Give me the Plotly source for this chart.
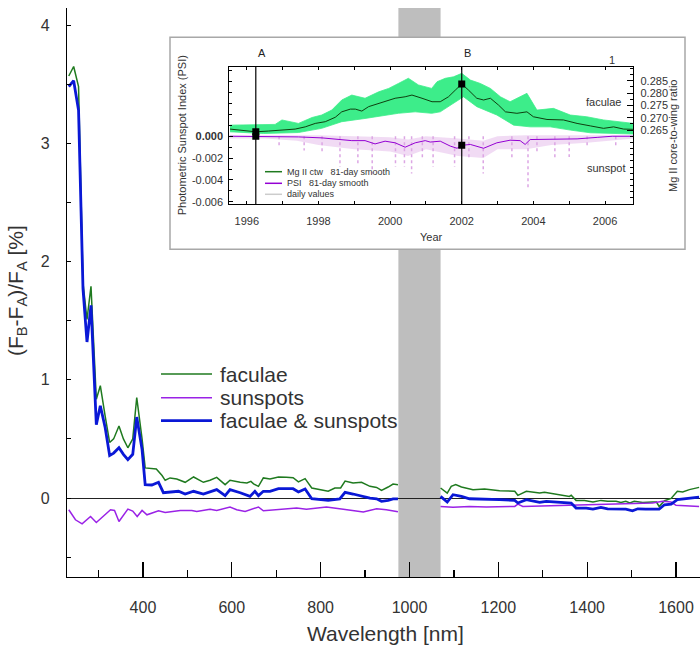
import plotly.graph_objects as go

# ---------------- main panel data ----------------
wl_fac = [233, 244, 255, 265, 274, 283, 295, 304, 315, 325, 334, 346, 356, 366, 377, 386, 398, 405,
          430, 443, 450, 461, 476, 495, 514, 536, 551, 566, 585, 596, 619, 634, 643, 649, 660, 671,
          686, 705, 723, 738, 750, 765, 780, 798, 817, 832, 845, 855, 873, 892, 911, 926, 937, 952,
          963, 974, 1020,
          1070, 1085, 1094, 1104, 1117, 1143, 1169, 1203, 1237, 1244, 1263, 1293, 1304, 1330, 1360,
          1364, 1375, 1394, 1413, 1431, 1446, 1465, 1476, 1487, 1496, 1506, 1525, 1547, 1556, 1562,
          1574, 1589, 1603, 1615, 1630, 1652]
faculae = [3.57, 3.65, 3.48, 1.82, 1.51, 1.79, 0.835, 0.95, 0.69, 0.47, 0.50, 0.61, 0.50, 0.425, 0.50,
           0.85, 0.50, 0.255,
           0.246, 0.19, 0.15, 0.17, 0.161, 0.133, 0.178, 0.133, 0.15, 0.175, 0.113, 0.15, 0.133, 0.127,
           0.141, 0.12, 0.099, 0.17, 0.161, 0.178, 0.175, 0.172, 0.136, 0.164, 0.085, 0.071, 0.057,
           0.085, 0.085, 0.144, 0.127, 0.133, 0.099, 0.09, 0.065, 0.093, 0.118, 0.113, None,
           0.085, 0.042, 0.099, 0.113, 0.093, 0.071, 0.076, 0.062, 0.057, 0.023, 0.057, 0.042, 0.048,
           0.034, 0.014, 0.023, -0.02, -0.02, -0.034, -0.02, -0.028, -0.028, -0.037, -0.028, -0.042,
           -0.028, -0.037, -0.034, -0.034, -0.071, -0.023, -0.003, 0.057, 0.051, 0.071, 0.09]

wl_spot = [233, 248, 263, 282, 295, 308, 327, 336, 346, 366, 377, 387, 398, 409, 435, 450, 484, 510,
           521, 551, 566, 596, 611, 630, 660, 671, 709, 746, 768, 813, 851, 896, 926, 948, 974, 1020,
           1070, 1098, 1135, 1173, 1237, 1244, 1255, 1323, 1375, 1435, 1502, 1547, 1570, 1589, 1600,
           1622, 1652]
sunspots = [-0.099, -0.184, -0.218, -0.156, -0.207, -0.161, -0.099, -0.105, -0.198, -0.094, -0.11,
            -0.156, -0.105, -0.142, -0.108, -0.122, -0.105, -0.105, -0.113, -0.094, -0.105, -0.076,
            -0.099, -0.113, -0.076, -0.108, -0.094, -0.085, -0.094, -0.076, -0.094, -0.119, -0.091,
            -0.099, -0.116, None,
            -0.071, -0.079, -0.071, -0.076, -0.071, -0.051, -0.071, -0.065, -0.057, -0.057, -0.048,
            -0.042, -0.028, -0.034, -0.062, -0.065, -0.071]

wl_both = [233, 244, 255, 265, 274, 283, 295, 304, 315, 325, 334, 346, 356, 366, 377, 386, 398, 405,
           420, 435, 446, 465, 480, 495, 514, 536, 566, 585, 596, 619, 641, 652, 660, 671, 686, 705,
           738, 750, 765, 780, 817, 843, 855, 873, 892, 911, 926, 937, 952, 963, 974, 1020,
           1070, 1085, 1098, 1117, 1135, 1173, 1203, 1237, 1244, 1263, 1293, 1308, 1338, 1364, 1375,
           1398, 1413, 1431, 1446, 1472, 1487, 1502, 1514, 1532, 1562, 1574, 1589, 1603, 1622, 1652]
both = [3.48, 3.53, 3.28, 1.77, 1.32, 1.63, 0.62, 0.78, 0.595, 0.36, 0.38, 0.425, 0.37, 0.325, 0.37,
        0.685, 0.41, 0.113,
        0.11, 0.133, 0.045, 0.051, 0.057, 0.034, 0.057, 0.034, 0.071, 0.02, 0.071, 0.045, 0.014,
        0.057, 0.02, 0.057, 0.057, 0.079, 0.079, 0.051, 0.076, -0.006, -0.02, -0.008, 0.048, 0.034,
        0.014, 0.0, -0.006, -0.028, -0.02, -0.008, -0.008, None,
        0.014, -0.034, 0.028, 0.014, -0.006, -0.008, -0.014, -0.02, -0.042, -0.014, -0.037, -0.028,
        -0.037, -0.042, -0.085, -0.085, -0.094, -0.079, -0.091, -0.091, -0.094, -0.108, -0.091,
        -0.094, -0.094, -0.057, -0.051, -0.014, -0.006, 0.008]

gap_band = [975, 1070]
main_yticks = [-0.5, 0, 0.5, 1, 1.5, 2, 2.5, 3, 3.5, 4]
main_yticktext = ["", "0", "", "1", "", "2", "", "3", "", "4"]
main_xticks = [400, 600, 800, 1000, 1200, 1400, 1600]
legend_names = ["faculae", "sunspots", "faculae & sunspots"]

# ---------------- inset data ----------------
mg_years = [1995.53, 1995.86, 1996.25, 1996.6, 1996.98, 1997.35, 1997.63, 1997.91, 1998.19, 1998.47,
            1998.65, 1998.89, 1999.03, 1999.21, 1999.40, 1999.63, 1999.86, 2000.14, 2000.42, 2000.61,
            2000.89, 2001.17, 2001.4, 2001.63, 2001.82, 2002.0, 2002.19, 2002.42, 2002.61, 2002.8,
            2003.03, 2003.22, 2003.54, 2003.82, 2004.0, 2004.38, 2004.84, 2005.22, 2005.59, 2005.96,
            2006.24, 2006.52, 2006.8]
mg_smooth = [0.2654, 0.2650, 0.2643, 0.2646, 0.2650, 0.2654, 0.2663, 0.2677, 0.2684, 0.2702,
             0.2724, 0.2735, 0.2735, 0.2727, 0.2745, 0.2755, 0.2765, 0.2779, 0.2785, 0.2792,
             0.2779, 0.2765, 0.2765, 0.2785, 0.2812, 0.2837, 0.2812, 0.2779, 0.2772, 0.2779,
             0.2751, 0.2724, 0.2718, 0.2724, 0.2704, 0.2693, 0.2691, 0.2677, 0.2667, 0.2657,
             0.2663, 0.2654, 0.2653]

mg_top_years = [1995.53, 1996.14, 1996.79, 1996.98, 1997.44, 1997.82, 1998.09, 1998.37, 1998.65,
                1998.93, 1999.30, 1999.68, 1999.96, 2000.23, 2000.51, 2000.79, 2001.16, 2001.31,
                2001.54, 2001.77, 2002.0, 2002.24, 2002.52, 2002.8, 2003.08, 2003.35, 2003.82,
                2004.1, 2004.56, 2005.03, 2005.49, 2005.96, 2006.33, 2006.8]
mg_top = [0.2670, 0.2670, 0.2673, 0.2691, 0.2677, 0.2701, 0.2711, 0.2731, 0.2772, 0.2792, 0.2779,
          0.2805, 0.2819, 0.2839, 0.2860, 0.2833, 0.2819, 0.2846, 0.2860, 0.2866, 0.2880, 0.2853,
          0.2839, 0.2819, 0.2785, 0.2765, 0.2799, 0.2731, 0.2738, 0.2711, 0.2704, 0.2691, 0.2684,
          0.2677]
mg_bot_years = [1995.53, 1996.47, 1997.44, 1998.09, 1998.65, 1999.3, 1999.77, 2000.23, 2000.7,
                2001.16, 2001.4, 2001.77, 2002.05, 2002.42, 2002.98, 2003.45, 2003.91, 2004.47,
                2005.03, 2005.59, 2006.15, 2006.8]
mg_bot = [0.2643, 0.2636, 0.2640, 0.2657, 0.2684, 0.2697, 0.2707, 0.2718, 0.2724, 0.2718, 0.2724,
          0.2758, 0.2785, 0.2745, 0.2711, 0.2670, 0.2663, 0.2663, 0.2650, 0.2639, 0.2636, 0.2634]

psi_years = [1995.53, 1996.25, 1997.44, 1998.1, 1998.56, 1998.93, 1999.3, 1999.58, 1999.86, 2000.14,
             2000.42, 2000.7, 2000.98, 2001.12, 2001.4, 2001.68, 2001.87, 2002.0, 2002.24, 2002.61,
             2002.98, 2003.35, 2003.63, 2003.77, 2003.91, 2004.56, 2005.22, 2005.78, 2006.2, 2006.8]
psi_smooth = [0.0, 0.0, -0.00006, -0.00015, -0.0003, -0.0004, -0.0004, -0.0007, -0.00045, -0.0006,
              -0.001, -0.0006, -0.0004, -0.00053, -0.00045, -0.0009, -0.0011, -0.00083, -0.00075,
              -0.0011, -0.0006, -0.00036, -0.0004, -0.00075, -0.0003, -0.0003, -0.00024, -0.0001,
              0.0, 0.0]

psi_band_years = [1995.5, 1996.5, 1997.4, 1998.0, 1999.0, 2000.0, 2000.5, 2001.0, 2001.9, 2002.6,
                  2003.0, 2003.8, 2004.5, 2005.5, 2006.8]
psi_band_upper = [0.0001, 0.0001, 0.0001, 0.0001, 0.0, -0.0001, -0.0003, 0.0, -0.0002, -0.0004,
                  0.0, 0.0001, 0.0001, 0.0001, 0.0001]
psi_band_lower = [-0.0002, -0.0002, -0.0004, -0.0008, -0.0012, -0.0014, -0.0018, -0.0012, -0.0018,
                  -0.0020, -0.0012, -0.0012, -0.0008, -0.0006, -0.0002]

spike_years = [1996.9, 1997.6, 1998.1, 1998.6, 1999.1, 1999.5, 2000.15, 2000.4, 2000.6, 2000.9,
               2001.2, 2001.8, 2002.2, 2002.6, 2003.4, 2003.85, 2004.1, 2004.6, 2005.0, 2005.5, 2006.3]
spike_min = [-0.0010, -0.0013, -0.0016, -0.0028, -0.0025, -0.0034, -0.0028, -0.0028, -0.0034,
             -0.0022, -0.0028, -0.0028, -0.0020, -0.0034, -0.0021, -0.0048, -0.0016, -0.0021,
             -0.0019, -0.0010, -0.0009]

epoch_years = [1996.25, 2002.0]
epoch_labels = ["A", "B"]
epoch_mg = [0.2643, 0.2837]
epoch_psi = [0.0, -0.00083]

inset_xticks = list(range(1996, 2007))
inset_xticktext = [str(y) if y % 2 == 0 else "" for y in inset_xticks]
psi_ticks = [-0.006, -0.004, -0.002, 0.0]
psi_ticktext = ["-0.006", "-0.004", "-0.002", "<b>0.000</b>"]
mg_ticks = [0.265, 0.270, 0.275, 0.280, 0.285]
inset_legend = ["Mg II ctw   81-day smooth", "PSI   81-day smooth", "daily values"]

# ---------------- styling ----------------
FONT = "Liberation Sans, Arial, Helvetica, sans-serif"
TXT = "#333333"
C_FAC = "#1f7a1f"
C_SPOT = "#9a22e6"
C_BOTH = "#0a18d6"
C_MGD = "#3ded8a"
C_PSID = "#dca6e4"

fig = go.Figure()

fig.add_trace(go.Scatter(x=wl_fac, y=faculae, mode="lines", line=dict(color=C_FAC, width=1.5),
                         connectgaps=False, xaxis="x", yaxis="y"))
fig.add_trace(go.Scatter(x=wl_spot, y=sunspots, mode="lines", line=dict(color=C_SPOT, width=1.5),
                         connectgaps=False, xaxis="x", yaxis="y"))
fig.add_trace(go.Scatter(x=wl_both, y=both, mode="lines", line=dict(color=C_BOTH, width=2.8),
                         connectgaps=False, xaxis="x", yaxis="y"))

fig.add_trace(go.Scatter(x=mg_top_years + mg_bot_years[::-1], y=mg_top + mg_bot[::-1], mode="lines",
                         line=dict(width=0.8, color=C_MGD), fill="toself", fillcolor=C_MGD,
                         xaxis="x2", yaxis="y3"))
fig.add_trace(go.Scatter(x=psi_band_years + psi_band_years[::-1],
                         y=psi_band_upper + psi_band_lower[::-1], mode="lines",
                         line=dict(width=0, color=C_PSID), fill="toself",
                         fillcolor="rgba(220,166,228,0.4)", xaxis="x2", yaxis="y2"))
sx, sy = [], []
for yr, mn in zip(spike_years, spike_min):
    sx += [yr, yr, None]
    sy += [0.0, mn, None]
fig.add_trace(go.Scatter(x=sx, y=sy, mode="lines", line=dict(color=C_PSID, width=1.5, dash="dot"),
                         xaxis="x2", yaxis="y2"))
fig.add_trace(go.Scatter(x=psi_years, y=psi_smooth, mode="lines", line=dict(color="#9400d3", width=1),
                         xaxis="x2", yaxis="y2"))
fig.add_trace(go.Scatter(x=mg_years, y=mg_smooth, mode="lines", line=dict(color="#0f3f0f", width=1),
                         xaxis="x2", yaxis="y3"))
fig.add_trace(go.Scatter(x=epoch_years, y=epoch_mg, mode="markers",
                         marker=dict(symbol="square", size=7, color="black"), xaxis="x2", yaxis="y3"))
fig.add_trace(go.Scatter(x=epoch_years, y=epoch_psi, mode="markers",
                         marker=dict(symbol="square", size=7, color="black"), xaxis="x2", yaxis="y2"))

# ---------------- layout geometry (page body margin removed -> screen = figure coords) ----------------
W, H = 700, 646
L, R, T, B = 67, 0, 8, 69
PW, PH = W - L - R, H - T - B


def px(xs):
    return (xs - L) / PW


def py(ys):
    return (H - B - ys) / PH


inset_box = dict(x0=px(170), x1=px(685), y0=py(249.3), y1=py(37.3))

shapes = []
for ya, yb in [(0, inset_box["y0"]), (inset_box["y1"], 1)]:
    shapes.append(dict(type="rect", xref="x", yref="paper", x0=gap_band[0], x1=gap_band[1], y0=ya, y1=yb,
                       fillcolor="#bebebe", line=dict(width=0), layer="below"))
shapes.append(dict(type="rect", xref="paper", yref="paper", **inset_box,
                   fillcolor="rgba(0,0,0,0)", line=dict(color="#a8a8a8", width=1.5), layer="above"))
for yr in epoch_years:
    shapes.append(dict(type="line", xref="x2", yref="y2 domain", x0=yr, x1=yr, y0=0, y1=1,
                       line=dict(color="black", width=1.2)))


def ann(xs, ys, text, size, **kw):
    d = dict(xref="paper", yref="paper", x=px(xs), y=py(ys), text=text, showarrow=False,
             xanchor="center", yanchor="middle", font=dict(size=size, color=TXT, family=FONT))
    d.update(kw)
    return d


leg_y = [374, 397.7, 420.7]
leg_colors = [C_FAC, C_SPOT, C_BOTH]
leg_widths = [1.5, 1.5, 2.8]
annotations = []
for name, yy, c, w in zip(legend_names, leg_y, leg_colors, leg_widths):
    shapes.append(dict(type="line", xref="paper", yref="paper", x0=px(161), x1=px(212), y0=py(yy), y1=py(yy),
                       line=dict(color=c, width=w)))
    annotations.append(ann(218, yy, name, 21, xanchor="left"))

ileg_y = [171.7, 183.3, 194.3]
ileg_colors = ["#1f7a1f", "#9400d3", "#cccccc"]
for name, yy, c in zip(inset_legend, ileg_y, ileg_colors):
    shapes.append(dict(type="line", xref="paper", yref="paper", x0=px(265), x1=px(282), y0=py(yy), y1=py(yy),
                       line=dict(color=c, width=1.5)))
    annotations.append(ann(285, yy, name, 9, xanchor="left"))

for yr, lab in zip(epoch_years, epoch_labels):
    annotations.append(dict(xref="x2", yref="paper", x=yr, y=py(52.7), text=lab, showarrow=False,
                            xanchor="left", yanchor="middle", font=dict(size=11, color="#222", family=FONT)))
annotations += [
    ann(612, 60, "1", 11),
    ann(603.5, 101.7, "faculae", 11),
    ann(606, 168.3, "sunspot", 11),
    ann(431, 236.7, "Year", 11),
    ann(181.7, 135.6, "Photometric Sunspot Index (PSI)", 11, textangle=-90),
    ann(673, 136, "Mg II core-to-wing ratio", 11, textangle=-90),
    ann(385, 633, "Wavelength [nm]", 21),
    ann(17, 291, "(F<sub>B</sub>-F<sub>A</sub>)/F<sub>A</sub> [%]", 21, textangle=-90),
]

ix0, ix1 = px(229.3), px(633.3)
iy0, iy1 = py(204.3), py(66.7)

fig.update_layout(
    width=W, height=H,
    margin=dict(l=L, r=R, t=T, b=B, pad=0, autoexpand=False),
    paper_bgcolor="white", plot_bgcolor="rgba(0,0,0,0)",
    showlegend=False,
    font=dict(family=FONT, color=TXT),
    xaxis=dict(range=[229, 1654], domain=[0, 1], showline=True, linecolor="black", linewidth=1.2,
               showgrid=False, zeroline=False, ticks="inside", ticklen=15, tickwidth=1.2, tickcolor="black",
               tickvals=main_xticks, tickfont=dict(size=16, color=TXT), ticklabelstandoff=16,
               minor=dict(dtick=100, tick0=0, ticks="inside", ticklen=7, tickwidth=1.2, tickcolor="black"),
               anchor="y"),
    yaxis=dict(range=[-0.668, 4.145], domain=[0, 1], showline=True, linecolor="black", linewidth=1.2,
               showgrid=False, zeroline=True, zerolinecolor="#222", zerolinewidth=1,
               ticks="inside", ticklen=4, tickcolor="black", tickvals=main_yticks,
               ticktext=main_yticktext, tickfont=dict(size=16, color=TXT), ticklabelstandoff=13,
               anchor="x"),
    xaxis2=dict(domain=[ix0, ix1], range=[1995.51, 2006.79], anchor="y2", showline=True, mirror="ticks",
                linecolor="black", linewidth=1, showgrid=False, zeroline=False, ticks="inside", ticklen=3,
                tickcolor="black", tickvals=inset_xticks, ticktext=inset_xticktext,
                tickfont=dict(size=11, color=TXT), ticklabelstandoff=6),
    yaxis2=dict(domain=[iy0, iy1], range=[-0.00623, 0.00637], anchor="x2", showline=True,
                linecolor="black", linewidth=1, showgrid=False, zeroline=False, ticks="inside",
                ticklen=4, tickcolor="black", tickvals=psi_ticks, ticktext=psi_ticktext,
                tickfont=dict(size=11, color=TXT), ticklabelstandoff=3,
                minor=dict(dtick=0.001, tick0=0, ticks="inside", ticklen=3, tickcolor="black")),
    yaxis3=dict(range=[0.2349, 0.2907], overlaying="y2", side="right", anchor="x2", showline=True,
                linecolor="black", linewidth=1, showgrid=False, zeroline=False, ticks="inside",
                ticklen=6, tickcolor="black", tickvals=mg_ticks,
                ticktext=["%.3f" % v for v in mg_ticks], tickfont=dict(size=11, color=TXT),
                ticklabelstandoff=4,
                minor=dict(dtick=0.0025, tick0=0.265, ticks="inside", ticklen=3, tickcolor="black")),
    shapes=shapes,
    annotations=annotations,
)

fig.write_html("out.html", config={"displayModeBar": False, "staticPlot": True},
               post_script="document.body.style.margin='0';document.body.style.overflow='hidden';")
